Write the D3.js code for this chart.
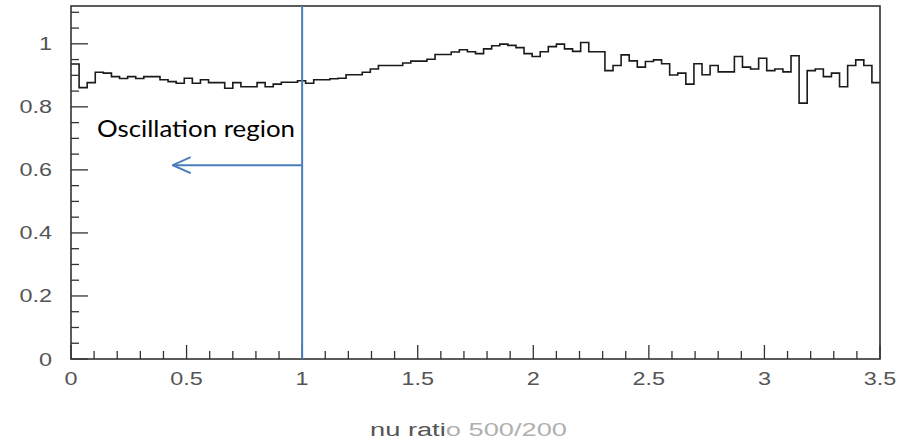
<!DOCTYPE html>
<html>
<head>
<meta charset="utf-8">
<script src="https://cdn.jsdelivr.net/npm/d3@7"></script>
<style>
  html, body { margin: 0; padding: 0; background: #fff; }
  svg { display: block; }
</style>
</head>
<body>
<svg id="chart" width="908" height="441"></svg>
<script>
// Ratio histogram: 100 bins spanning 0 .. 3.5
const binLow = 0;
const binHigh = 3.5;
const binCount = 100;
const ratioValues = [
  0.936, 0.861, 0.877, 0.910, 0.907, 0.896, 0.890, 0.896, 0.890, 0.896,
  0.896, 0.886, 0.880, 0.875, 0.891, 0.875, 0.886, 0.877, 0.877, 0.859,
  0.877, 0.864, 0.864, 0.877, 0.864, 0.872, 0.878, 0.878, 0.883, 0.875,
  0.886, 0.886, 0.889, 0.891, 0.902, 0.902, 0.910, 0.920, 0.931, 0.931,
  0.931, 0.939, 0.945, 0.945, 0.951, 0.966, 0.966, 0.974, 0.981, 0.975,
  0.969, 0.984, 0.994, 0.999, 0.995, 0.988, 0.969, 0.960, 0.975, 0.991,
  0.999, 0.984, 0.976, 1.004, 0.975, 0.975, 0.915, 0.931, 0.965, 0.946,
  0.926, 0.944, 0.949, 0.937, 0.901, 0.907, 0.872, 0.937, 0.902, 0.931,
  0.911, 0.911, 0.960, 0.926, 0.920, 0.954, 0.915, 0.920, 0.911, 0.962,
  0.812, 0.915, 0.920, 0.896, 0.907, 0.864, 0.931, 0.949, 0.931, 0.877
];
const xTickLabels = ["0", "0.5", "1", "1.5", "2", "2.5", "3", "3.5"];
const yTickLabels = ["0", "0.2", "0.4", "0.6", "0.8", "1"];
const xTitleParts = ["nu rati", "o 500/200"];
const markerX = 1;
const arrowTipX = 0.44;
const arrowY = 0.615;
const annotation = "Oscillation region";

const svg = d3.select("#chart");
const frame = { left: 71, right: 880, top: 6, bottom: 359 };

const x = d3.scaleLinear().domain([binLow, binHigh]).range([frame.left, frame.right]);
const y = d3.scaleLinear().domain([0, 1.12]).range([frame.bottom, frame.top]);

const axisColor = "#333";
const labelColor = "#555";
const blue = "#4a7ebb";
const labelFont = "Liberation Sans, Arial, sans-serif";

// widen glyphs horizontally (the axis font is a stretched sans)
function stretch(sel, factor) {
  sel.each(function () {
    const w = this.getComputedTextLength();
    d3.select(this)
      .attr("textLength", w * factor)
      .attr("lengthAdjust", "spacingAndGlyphs");
  });
}

// histogram outline
const binWidth = (binHigh - binLow) / binCount;
const steps = ratioValues.map((v, i) => [binLow + i * binWidth, v]);
steps.push([binHigh, ratioValues[ratioValues.length - 1]]);
const stepLine = d3.line()
  .x(d => x(d[0]))
  .y(d => y(d[1]))
  .curve(d3.curveStepAfter);
svg.append("path")
  .attr("d", stepLine(steps))
  .attr("fill", "none")
  .attr("stroke", "#1a1a1a")
  .attr("stroke-width", 1.6);

// frame
svg.append("rect")
  .attr("x", frame.left).attr("y", frame.top)
  .attr("width", frame.right - frame.left)
  .attr("height", frame.bottom - frame.top)
  .attr("fill", "none")
  .attr("stroke", axisColor)
  .attr("stroke-width", 1.6);

// x axis ticks (inward) and labels
const xMinor = d3.range(0, 36).map(i => i / 10);
svg.append("g").selectAll("line").data(xMinor).join("line")
  .attr("x1", d => x(d)).attr("x2", d => x(d))
  .attr("y1", frame.bottom)
  .attr("y2", (d, i) => frame.bottom - (i % 5 === 0 ? 14 : 8))
  .attr("stroke", axisColor).attr("stroke-width", 1.3);
svg.append("g").selectAll("text").data(xTickLabels).join("text")
  .attr("x", d => x(+d))
  .attr("y", 385)
  .attr("text-anchor", "middle")
  .attr("font-family", labelFont)
  .attr("font-size", 18)
  .attr("fill", labelColor)
  .text(d => d)
  .call(stretch, 1.3);

// y axis ticks (inward) and labels
const yMinor = d3.range(0, 23).map(i => i / 20);
svg.append("g").selectAll("line").data(yMinor).join("line")
  .attr("x1", frame.left)
  .attr("x2", (d, i) => frame.left + (i % 4 === 0 ? 17 : 8))
  .attr("y1", d => y(d)).attr("y2", d => y(d))
  .attr("stroke", axisColor).attr("stroke-width", 1.3);
svg.append("g").selectAll("text").data(yTickLabels).join("text")
  .attr("x", 52)
  .attr("y", d => y(+d) + 6.5)
  .attr("text-anchor", "end")
  .attr("font-family", labelFont)
  .attr("font-size", 18)
  .attr("fill", labelColor)
  .text(d => d)
  .call(stretch, 1.3);

// x axis title
const title = svg.append("text")
  .attr("x", 370).attr("y", 436)
  .attr("font-family", labelFont)
  .attr("font-size", 18)
  .attr("textLength", 197)
  .attr("lengthAdjust", "spacingAndGlyphs");
title.append("tspan").attr("fill", "#555").text(xTitleParts[0]);
title.append("tspan").attr("fill", "#b0b0b0").text(xTitleParts[1]);

// marker line at ratio = 1
svg.append("line")
  .attr("x1", x(markerX)).attr("x2", x(markerX))
  .attr("y1", frame.top).attr("y2", frame.bottom)
  .attr("stroke", blue).attr("stroke-width", 2);

// arrow pointing into the low-ratio region
const defs = svg.append("defs");
defs.append("marker")
  .attr("id", "head")
  .attr("viewBox", "0 0 20 18")
  .attr("refX", 19).attr("refY", 9)
  .attr("markerWidth", 20).attr("markerHeight", 18)
  .attr("markerUnits", "userSpaceOnUse")
  .attr("orient", "auto")
  .append("path")
  .attr("d", "M1,1 L19,9 L1,17")
  .attr("fill", "none")
  .attr("stroke", blue)
  .attr("stroke-width", 2);
svg.append("line")
  .attr("x1", x(markerX)).attr("x2", x(arrowTipX))
  .attr("y1", y(arrowY)).attr("y2", y(arrowY))
  .attr("stroke", blue).attr("stroke-width", 2)
  .attr("marker-end", "url(#head)");

svg.append("text")
  .attr("x", 97).attr("y", 137)
  .attr("font-family", "Lato, sans-serif")
  .attr("font-size", 24)
  .attr("fill", "#000")
  .attr("textLength", 198)
  .attr("lengthAdjust", "spacingAndGlyphs")
  .text(annotation);
</script>
</body>
</html>
